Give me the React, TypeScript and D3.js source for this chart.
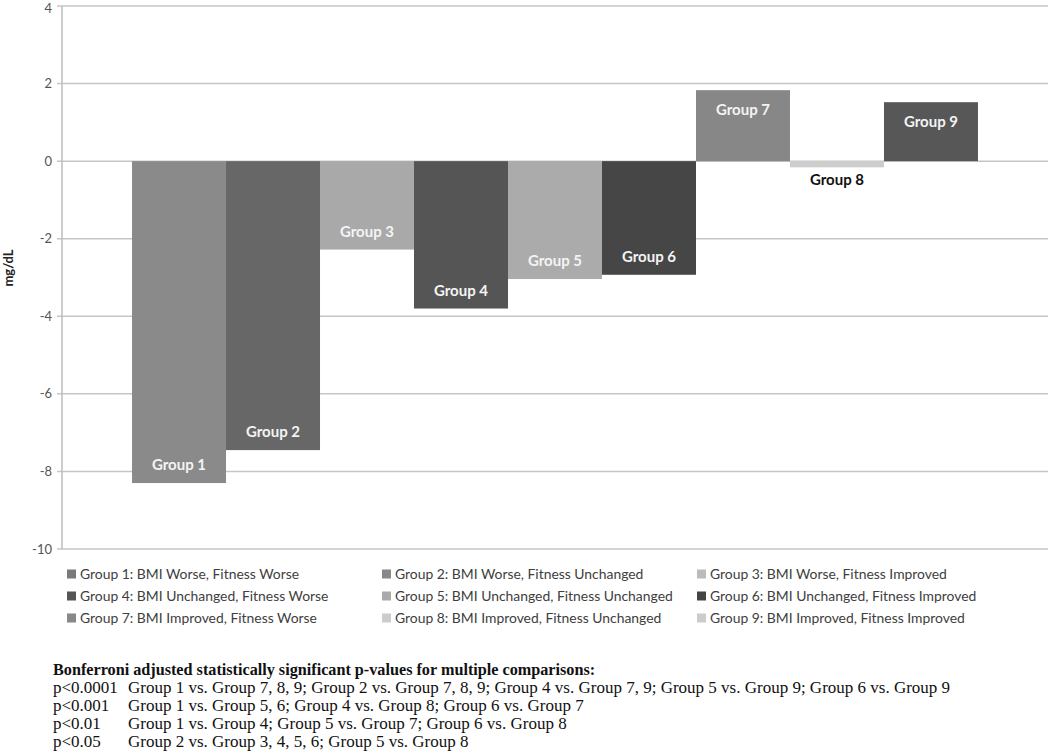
import React from "react";
import * as d3 from "d3";

const groups = ["Group 1", "Group 2", "Group 3", "Group 4", "Group 5", "Group 6", "Group 7", "Group 8", "Group 9"];
const values = [-8.3, -7.45, -2.28, -3.8, -3.04, -2.93, 1.83, -0.16, 1.52];
const barColors = ["#8a8a8a", "#676767", "#a9a9a9", "#555555", "#ababab", "#464646", "#878787", "#cdcdcd", "#575757"];
const legendLabels = [
  "Group 1: BMI Worse, Fitness Worse",
  "Group 2: BMI Worse, Fitness Unchanged",
  "Group 3: BMI Worse, Fitness Improved",
  "Group 4: BMI Unchanged, Fitness Worse",
  "Group 5: BMI Unchanged, Fitness Unchanged",
  "Group 6: BMI Unchanged, Fitness Improved",
  "Group 7: BMI Improved, Fitness Worse",
  "Group 8: BMI Improved, Fitness Unchanged",
  "Group 9: BMI Improved, Fitness Improved",
];
const legendColors = ["#7a7a7a", "#888888", "#bbbbbb", "#555555", "#aaaaaa", "#444444", "#888888", "#cccccc", "#cccccc"];
const yTicks = [4, 2, 0, -2, -4, -6, -8, -10];
const yLabel = "mg/dL";
const noteTitle = "Bonferroni adjusted statistically significant p-values for multiple comparisons:";
const notePs = ["p<0.0001", "p<0.001", "p<0.01", "p<0.05"];
const noteTexts = [
  "Group 1 vs. Group 7, 8, 9; Group 2 vs. Group 7, 8, 9; Group 4 vs. Group 7, 9; Group 5 vs. Group 9; Group 6 vs. Group 9",
  "Group 1 vs. Group 5, 6; Group 4 vs. Group 8; Group 6 vs. Group 7",
  "Group 1 vs. Group 4; Group 5 vs. Group 7; Group 6 vs. Group 8",
  "Group 2 vs. Group 3, 4, 5, 6; Group 5 vs. Group 8",
];

export default function App() {
  const W = 1050, H = 755;
  const plotL = 62, plotR = 1048, plotT = 6, plotB = 549;
  const y = d3.scaleLinear().domain([-10, 4]).range([plotB, plotT]);
  const x = d3.scaleBand<string>().domain(groups).range([plotL, plotR]).paddingInner(0).paddingOuter(0.745);
  const y0 = y(0);
  const labelFont = "Lato, 'Open Sans', sans-serif";
  const serif = "'Liberation Serif', 'Times New Roman', serif";

  return (
    <svg width={W} height={H} style={{ position: "absolute", left: 0, top: 0, background: "#fff" }}>
      <rect x={0} y={0} width={W} height={H} fill="#fff" />
      {yTicks.map((t) => (
        <line key={"g" + t} x1={plotL - 5} x2={plotR} y1={y(t)} y2={y(t)} stroke="#c6c6c6" strokeWidth={1.5} />
      ))}
      <line x1={plotL} x2={plotL} y1={plotT} y2={plotB} stroke="#bdbdbd" strokeWidth={1.5} />
      {yTicks.map((t) => (
        <text key={"t" + t} x={52} y={Math.max(y(t), 8)} dy="0.35em" textAnchor="end" fontFamily={labelFont} fontSize={13} fill="#555">
          {t}
        </text>
      ))}
      <text transform={`translate(13,${268}) rotate(-90)`} textAnchor="middle" fontFamily={labelFont} fontWeight="bold" fontSize={13} fill="#222">
        {yLabel}
      </text>
      {groups.map((g, i) => {
        const v = values[i];
        const x0 = x(g)!;
        const yv = y(v);
        const top = Math.min(yv, y0);
        const h = Math.abs(yv - y0);
        const cx = x0 + x.bandwidth() / 2;
        const inside = h > 25;
        let ly: number;
        if (inside) ly = v < 0 ? yv - 18 : yv + 20;
        else ly = v < 0 ? yv + 12 : yv - 12;
        return (
          <g key={g}>
            <rect x={x0} y={top} width={x.bandwidth()} height={h} fill={barColors[i]} />
            <text x={cx} y={ly} dy="0.35em" textAnchor="middle" fontFamily={labelFont} fontWeight="bold" fontSize={15} fill={inside ? "#f4f4f4" : "#111"}>
              {g}
            </text>
          </g>
        );
      })}
      {legendLabels.map((l, i) => {
        const col = i % 3;
        const row = Math.floor(i / 3);
        const lx = 67 + col * 315;
        const ly = 574 + row * 22;
        return (
          <g key={l}>
            <rect x={lx} y={ly - 4.5} width={9} height={9} fill={legendColors[i]} />
            <text x={lx + 13} y={ly} dy="0.35em" fontFamily={labelFont} fontSize={13.9} fill="#404040">
              {l}
            </text>
          </g>
        );
      })}
      <text x={53} y={675} fontFamily={serif} fontWeight="bold" fontSize={16.2} fill="#111">
        {noteTitle}
      </text>
      {notePs.map((p, i) => (
        <g key={p}>
          <text x={53} y={693 + i * 18} fontFamily={serif} fontSize={17} fill="#111">
            {p}
          </text>
          <text x={128} y={693 + i * 18} fontFamily={serif} fontSize={17} fill="#111">
            {noteTexts[i]}
          </text>
        </g>
      ))}
    </svg>
  );
}
